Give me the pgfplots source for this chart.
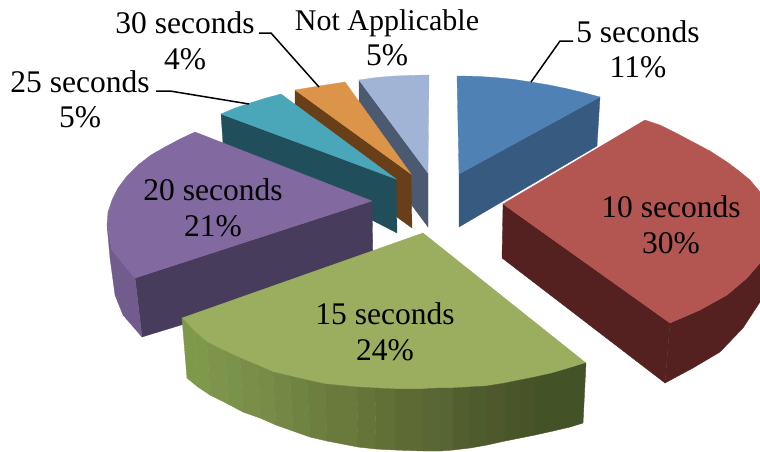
\documentclass[border=0pt]{standalone}
\usepackage{pgfplots}
\usepackage{fontspec}
\setmainfont{Liberation Serif}
\pgfplotsset{compat=1.18}
\definecolor{skyT}{HTML}{A2B4D6}\definecolor{skyD}{HTML}{4B5A70}
\definecolor{orgT}{HTML}{DC9449}\definecolor{orgD}{HTML}{683F19}
\definecolor{tealT}{HTML}{4AA7BA}\definecolor{tealD}{HTML}{204E5A}
\definecolor{purT}{HTML}{8269A0}\definecolor{purD}{HTML}{483C5C}\definecolor{purS}{HTML}{725C8E}
\definecolor{grnT}{HTML}{9BAD5E}
\definecolor{bluT}{HTML}{4F81B5}\definecolor{bluD}{HTML}{375A80}
\definecolor{redT}{HTML}{B35652}\definecolor{redD}{HTML}{542120}
% one filled face of a slice
\newcommand{\face}[2]{\addplot[fill=#1,draw=#1,line width=0.3pt] coordinates {#2} --cycle;}
% one band of the green slice's rim: red, green, blue, corners
\newcommand{\band}[4]{\addplot[fill={rgb,255:red,#1;green,#2;blue,#3},draw={rgb,255:red,#1;green,#2;blue,#3},line width=0.4pt] coordinates {#4} --cycle;}
\newcommand{\lab}[3]{\node[anchor=base,text=black,inner sep=0pt,font=\fontsize{31.5}{35}\selectfont] at (axis cs:#1,#2) {#3};}
\begin{document}
\begin{tikzpicture}
\useasboundingbox (0,0) rectangle (760pt,451pt);
\begin{axis}[
  at={(0,0)},anchor=south west,
  width=760pt,height=451pt,scale only axis,
  xmin=0,xmax=760,ymin=0,ymax=451,y dir=reverse,
  hide axis,clip=true]
% Not Applicable
\face{skyD}{(359,80)(428,173)(428,227)(359,134)}
\face{skyT}{(359,80)(376,77.5)(394,76)(412,75.3)(429,75)(428,173)}
% 30 seconds
\face{orgD}{(295,90)(411,174)(412,228)(295,143)}
\face{orgT}{(295,90)(319,86)(345,82)(411,174)}
% 25 seconds
\face{tealD}{(221,114)(396,179)(397,233)(223,143)}
\face{tealT}{(221,114)(235,108)(250,103)(266,98)(281,94)(396,179)}
% 20 seconds
\face{purD}{(372,201)(135,278)(142,337)(373,266)}
\face{purS}{(107,225)(110,258)(115,295)(123,315)(142,337)(135,278)(112,250)}
\face{purT}{(195,132)(180,139)(165,147)(151,155)(138,165)(127,176)(118,188)(112,200)(108,212)(107,225)(112,250)(123,264)(135,278)(372,201)}
% 15 seconds: top face, then rim bands darkening from left to right
\face{grnT}{(423,233)(182,318)(194,331)(207,342)(225,351)(240,358)(257,365)(273,372)(290,376)(307,380)(325,384)(357,387)(395,389)(423,389)(453,388)(487,386)(520,380)(553,373)(570,368)(586,363)}
\band{127}{153}{75}{(182,318)(194,331)(198,387)(187,378)}
\band{127}{153}{75}{(194,331)(207,342)(210,395)(198,387)}
\band{126}{148}{76}{(207,342)(225,351)(228,404)(210,395)}
\band{122}{147}{74}{(225,351)(240,358)(243,412)(228,404)}
\band{122}{142}{72}{(240,358)(257,365)(260,418)(243,412)}
\band{118}{140}{71}{(257,365)(273,372)(276,425)(260,418)}
\band{117}{135}{68}{(273,372)(290,376)(293,431)(276,425)}
\band{112}{132}{66}{(290,376)(307,380)(310,437)(293,431)}
\band{110}{126}{63}{(307,380)(325,384)(327,441)(310,437)}
\band{105}{122}{60}{(325,384)(357,387)(358,447)(327,441)}
\band{101}{116}{57}{(357,387)(375,388)(376,449)(358,447)}
\band{97}{112}{55}{(375,388)(395,389)(395,450)(376,449)}
\band{93}{106}{52}{(395,389)(423,389)(423,451)(395,450)}
\band{90}{102}{52}{(423,389)(440,388)(440,451)(423,451)}
\band{87}{100}{52}{(440,388)(453,388)(453,450)(440,451)}
\band{83}{94}{46}{(453,388)(470,387)(470,448)(453,450)}
\band{78}{91}{45}{(470,387)(487,386)(487,445)(470,448)}
\band{78}{88}{44}{(487,386)(505,383)(505,441)(487,445)}
\band{73}{86}{42}{(505,383)(520,380)(520,438)(505,441)}
\band{72}{84}{40}{(520,380)(535,377)(535,435)(520,438)}
\band{68}{82}{40}{(535,377)(553,373)(553,431)(535,435)}
\band{68}{82}{39}{(553,373)(570,368)(570,427)(553,431)}
\band{68}{82}{39}{(570,368)(586,363)(583,423)(570,427)}
% 5 seconds
\face{bluD}{(459,174)(600,97)(597,146)(459,227)}
\face{bluT}{(457,76)(476,76.3)(495,77.5)(513,79.3)(531,82)(549,85)(566,88.5)(583,92.5)(600,97)(459,174)}
% 10 seconds
\face{redD}{(503,204)(670,323)(665,383)(502,258)}
\face{redD}{(670,323)(700,310)(727,295)(747,278)(760,263)(760,302)(743,328)(720,352)(693,368)(665,383)}
\face{redT}{(645,120)(660,125)(676,133)(693,142)(710,151)(727,162)(739,171)(750,180)(760,192)(760,263)(747,278)(727,295)(700,310)(670,323)(503,204)}
% leader lines
\addplot[black,line width=1.5pt] coordinates {(259,33)(271,33)(319,87)};
\addplot[black,line width=1.5pt] coordinates {(156,91)(170,91)(249,104)};
\addplot[black,line width=1.5pt] coordinates {(573,41)(560,41)(531,82)};
% data labels
\lab{638}{42}{5 seconds}\lab{638}{77}{11\%}
\lab{185}{33}{30 seconds}\lab{185}{69}{4\%}
\lab{80}{92}{25 seconds}\lab{80}{127}{5\%}
\node[anchor=base,text=black,inner sep=0pt,font=\fontsize{30}{34}\selectfont] at (axis cs:387,30) {Not Applicable};
\lab{387}{65}{5\%}
\lab{671}{217}{10 seconds}\lab{671}{253}{30\%}
\lab{213}{200}{20 seconds}\lab{213}{236}{21\%}
\lab{385}{324}{15 seconds}\lab{385}{360}{24\%}
\end{axis}
\end{tikzpicture}
\end{document}
